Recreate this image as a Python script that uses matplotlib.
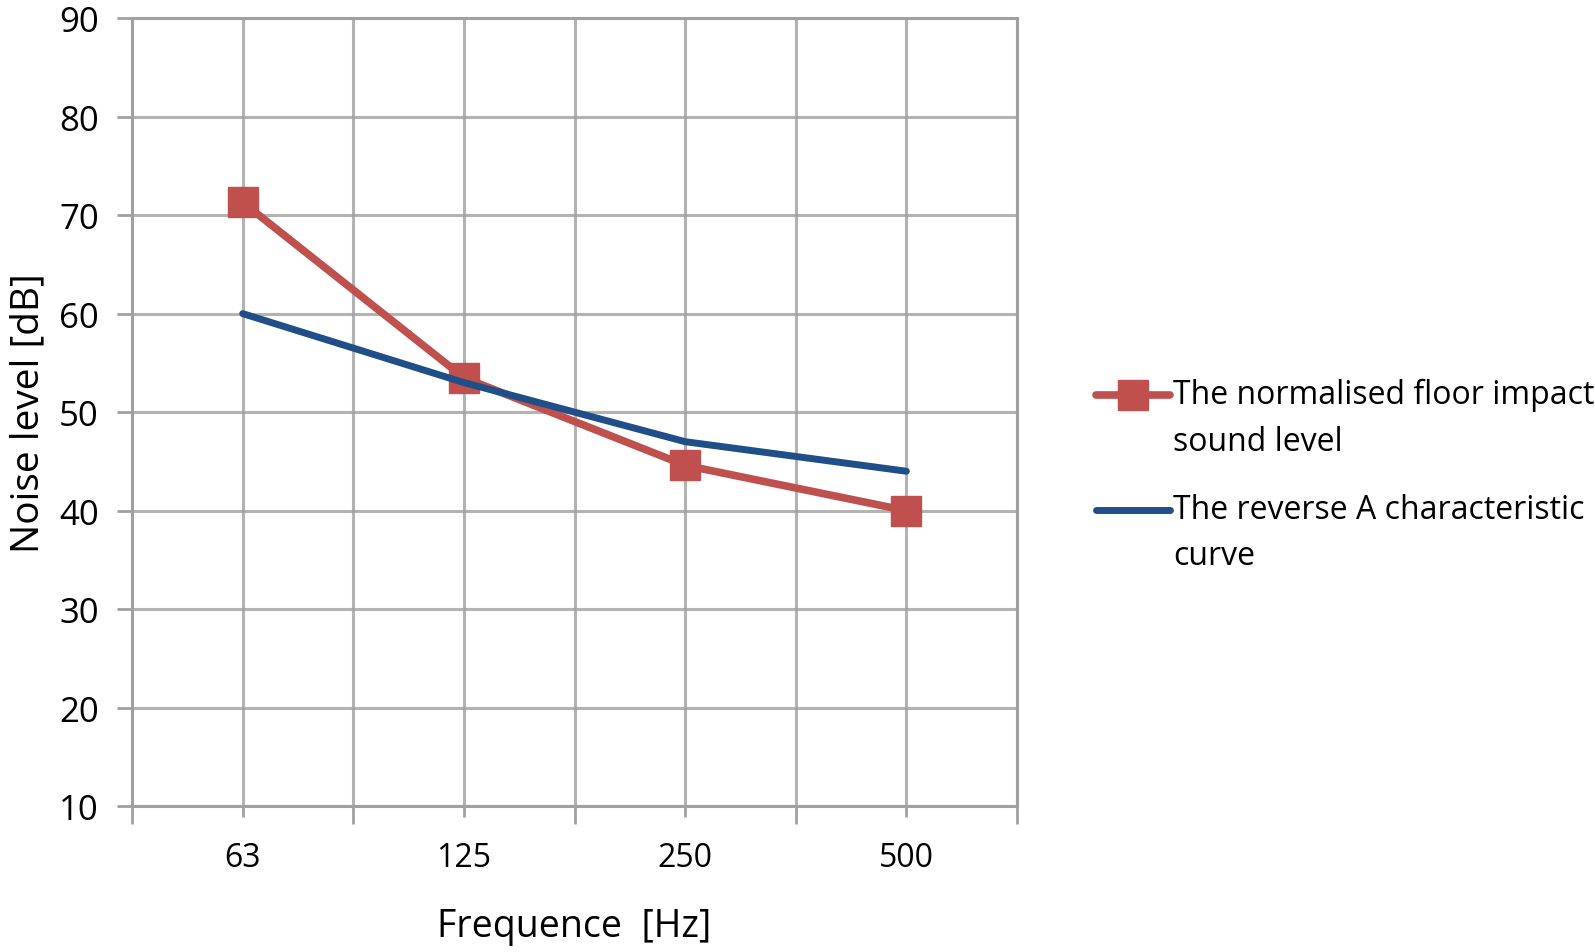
"""Floor impact sound level vs reverse A characteristic curve."""

import matplotlib
matplotlib.use("Agg")
import matplotlib.pyplot as plt
from matplotlib.legend_handler import HandlerLine2D
from matplotlib.ticker import FixedLocator

plt.rcParams["font.family"] = ["Open Sans", "DejaVu Sans"]

freqs = ["63", "125", "250", "500"]
floor_impact = [71.3, 53.5, 44.6, 40.0]
reverse_a = [60.0, 53.0, 47.0, 44.0]

RED = "#C0504D"
BLUE = "#1F4E89"
GRID = "#A0A0A0"


class RaisedLine(HandlerLine2D):
    """Legend handle lined up with the first line of a two-line label."""

    def __init__(self, raise_pt, **kw):
        super().__init__(**kw)
        self.raise_pt = raise_pt

    def create_artists(self, legend, orig_handle, xdescent, ydescent,
                       width, height, fontsize, trans):
        return super().create_artists(legend, orig_handle, xdescent,
                                      ydescent - 2 * self.raise_pt,
                                      width, height, fontsize, trans)


fig = plt.figure(figsize=(15.95, 9.53), dpi=100)
ax = fig.add_axes([0.0828, 0.153, 0.5548, 0.827])

x = list(range(1, len(freqs) + 1))
red_line, = ax.plot(x, floor_impact, color=RED, linewidth=5.5, marker="s", markersize=22,
                    solid_joinstyle="round", solid_capstyle="round",
                    label="The normalised floor impact\nsound level", zorder=3)
blue_line, = ax.plot(x, reverse_a, color=BLUE, linewidth=5,
                     solid_joinstyle="round", solid_capstyle="round",
                     label="The reverse A characteristic\ncurve", zorder=4)

ax.set_xlim(0.5, len(freqs) + 0.5)
ax.set_ylim(10, 90)
ax.set_yticks(range(10, 91, 10))

# category boundaries get long ticks, categories get short ones
ax.xaxis.set_major_locator(FixedLocator([i + 0.5 for i in range(0, len(freqs) + 1)]))
ax.xaxis.set_minor_locator(FixedLocator(x))
ax.set_xticklabels([])
ax.set_xticks(x, labels=freqs, minor=True)
ax.tick_params(axis="x", which="major", length=13, width=2, color=GRID)
ax.tick_params(axis="x", which="minor", length=8, width=2, color=GRID,
               labelsize=23, pad=17)
ax.tick_params(axis="y", length=11, width=2, color=GRID, labelsize=25, pad=13)

ax.grid(True, which="both", color=GRID, linewidth=2.2, alpha=0.8)
ax.set_axisbelow(True)
for side in ["left", "bottom", "top", "right"]:
    ax.spines[side].set_color(GRID)
    ax.spines[side].set_linewidth(2.2)

ax.set_xlabel("Frequence  [Hz]", fontsize=27, labelpad=24)
ax.set_ylabel("Noise level [dB]", fontsize=28, labelpad=8)

leg = ax.legend(loc="upper left", bbox_to_anchor=(1.075, 0.56), frameon=False,
                fontsize=23, handlelength=2.3, handletextpad=0.1,
                labelspacing=1.1, borderaxespad=0,
                handler_map={red_line: RaisedLine(17), blue_line: RaisedLine(17)})
for t in leg.get_texts():
    t.set_linespacing(1.55)

fig.savefig("out.png", dpi=100)
